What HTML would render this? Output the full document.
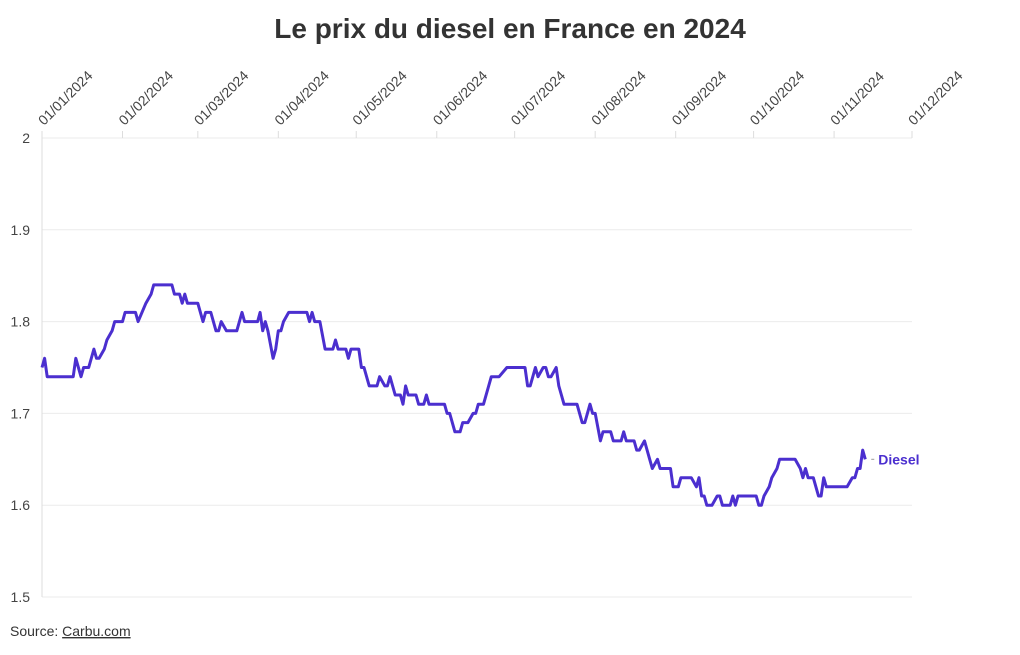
<!DOCTYPE html>
<html><head><meta charset="utf-8"><style>
body{margin:0;background:#fff;font-family:"Liberation Sans",sans-serif}
</style></head><body>
<svg width="1020" height="650" xmlns="http://www.w3.org/2000/svg">
<text x="510" y="38" text-anchor="middle" font-size="28" font-weight="bold" fill="#333">Le prix du diesel en France en 2024</text>
<g id="grid"></g>
<g id="yaxis"></g>
<g id="xaxis"></g>
<path id="line" fill="none" stroke="#4b2fcf" stroke-width="3" stroke-linejoin="round"></path>
<text id="lbl" font-size="14" font-weight="bold" fill="#4b2fcf">Diesel</text>
<text x="10" y="636" font-size="14" fill="#333">Source: <tspan text-decoration="underline">Carbu.com</tspan></text>
</svg>
<script>
const days=[0,1,2,12,13,15,16,18,20,21,22,24,25,27,28,31,32,36,37,40,42,43,50,51,53,54,55,56,60,62,63,65,67,68,69,71,75,77,78,83,84,85,86,87,89,90,91,92,93,95,102,103,104,105,107,109,112,113,114,117,118,119,122,123,124,126,129,130,132,133,134,135,136,138,139,140,141,144,145,147,148,149,155,156,157,159,161,162,164,166,167,168,170,172,173,174,176,179,186,187,188,190,191,193,194,195,196,198,199,200,201,206,208,209,211,212,213,215,216,219,220,223,224,225,228,229,230,232,233,234,235,237,238,242,243,245,246,250,252,253,254,255,256,258,260,261,262,265,266,267,268,275,276,277,278,280,281,283,284,290,292,293,294,295,297,299,300,301,302,310,312,313,314,315,316,317];
const prices=[1.75,1.76,1.74,1.74,1.76,1.74,1.75,1.75,1.77,1.76,1.76,1.77,1.78,1.79,1.80,1.80,1.81,1.81,1.80,1.82,1.83,1.84,1.84,1.83,1.83,1.82,1.83,1.82,1.82,1.80,1.81,1.81,1.79,1.79,1.80,1.79,1.79,1.81,1.80,1.80,1.81,1.79,1.80,1.79,1.76,1.77,1.79,1.79,1.80,1.81,1.81,1.80,1.81,1.80,1.80,1.77,1.77,1.78,1.77,1.77,1.76,1.77,1.77,1.75,1.75,1.73,1.73,1.74,1.73,1.73,1.74,1.73,1.72,1.72,1.71,1.73,1.72,1.72,1.71,1.71,1.72,1.71,1.71,1.70,1.70,1.68,1.68,1.69,1.69,1.70,1.70,1.71,1.71,1.73,1.74,1.74,1.74,1.75,1.75,1.73,1.73,1.75,1.74,1.75,1.75,1.74,1.74,1.75,1.73,1.72,1.71,1.71,1.69,1.69,1.71,1.70,1.70,1.67,1.68,1.68,1.67,1.67,1.68,1.67,1.67,1.66,1.66,1.67,1.66,1.65,1.64,1.65,1.64,1.64,1.62,1.62,1.63,1.63,1.62,1.63,1.61,1.61,1.60,1.60,1.61,1.61,1.60,1.60,1.61,1.60,1.61,1.61,1.60,1.60,1.61,1.62,1.63,1.64,1.65,1.65,1.64,1.63,1.64,1.63,1.63,1.61,1.61,1.63,1.62,1.62,1.63,1.63,1.64,1.64,1.66,1.65];
const yTicks=[1.5,1.6,1.7,1.8,1.9,2];
const yTickLabels=["1.5","1.6","1.7","1.8","1.9","2"];
const xTickDays=[0,31,60,91,121,152,182,213,244,274,305,335];
const xTickLabels=["01/01/2024","01/02/2024","01/03/2024","01/04/2024","01/05/2024","01/06/2024","01/07/2024","01/08/2024","01/09/2024","01/10/2024","01/11/2024","01/12/2024"];
const X0=42,X1=912,Y0=597,Y1=138;
const xs=d=>X0+(X1-X0)*d/335;
const ys=v=>Y0-(Y0-Y1)*(v-1.5)/0.5;
const NS="http://www.w3.org/2000/svg";
const grid=document.getElementById('grid'),ya=document.getElementById('yaxis'),xa=document.getElementById('xaxis');
yTicks.forEach((t,i)=>{
 const l=document.createElementNS(NS,'line');
 l.setAttribute('x1',X0);l.setAttribute('x2',X1);l.setAttribute('y1',ys(t));l.setAttribute('y2',ys(t));
 l.setAttribute('stroke','#ebebeb');
 
 
 grid.appendChild(l);
 const tx=document.createElementNS(NS,'text');
 tx.setAttribute('x',30);tx.setAttribute('y',ys(t)+5);tx.setAttribute('text-anchor','end');
 tx.setAttribute('font-size','14');tx.setAttribute('fill','#444');
 tx.textContent=yTickLabels[i];
 
 
 ya.appendChild(tx);
});
const ax=document.createElementNS(NS,'line');
ax.setAttribute('x1',X0);ax.setAttribute('x2',X0);ax.setAttribute('y1',Y1);ax.setAttribute('y2',Y0);ax.setAttribute('stroke','#ddd');


grid.appendChild(ax);
xTickDays.forEach((d,i)=>{
 const x=xs(d);
 const l=document.createElementNS(NS,'line');
 l.setAttribute('x1',x);l.setAttribute('x2',x);l.setAttribute('y1',131);l.setAttribute('y2',138);l.setAttribute('stroke','#ddd');
 
 
 xa.appendChild(l);
 const tx=document.createElementNS(NS,'text');
 tx.setAttribute('transform',`translate(${x+2},126) rotate(-45)`);
 tx.setAttribute('font-size','14');tx.setAttribute('fill','#444');
 tx.textContent=xTickLabels[i];
 
 
 xa.appendChild(tx);
});
document.getElementById('line').setAttribute('d',days.map((d,i)=>(i?'L':'M')+xs(d).toFixed(1)+','+ys(prices[i]).toFixed(1)).join(''));
const lx=xs(days[days.length-1]),ly=ys(prices[prices.length-1]);
const lb=document.getElementById('lbl');lb.setAttribute('x',lx+13);lb.setAttribute('y',ly+5);
const dash=document.createElementNS(NS,'line');
dash.setAttribute('x1',lx+6);dash.setAttribute('x2',lx+9);dash.setAttribute('y1',ly);dash.setAttribute('y2',ly);dash.setAttribute('stroke','#999');


document.querySelector('svg').appendChild(dash);
</script>
</body></html>
